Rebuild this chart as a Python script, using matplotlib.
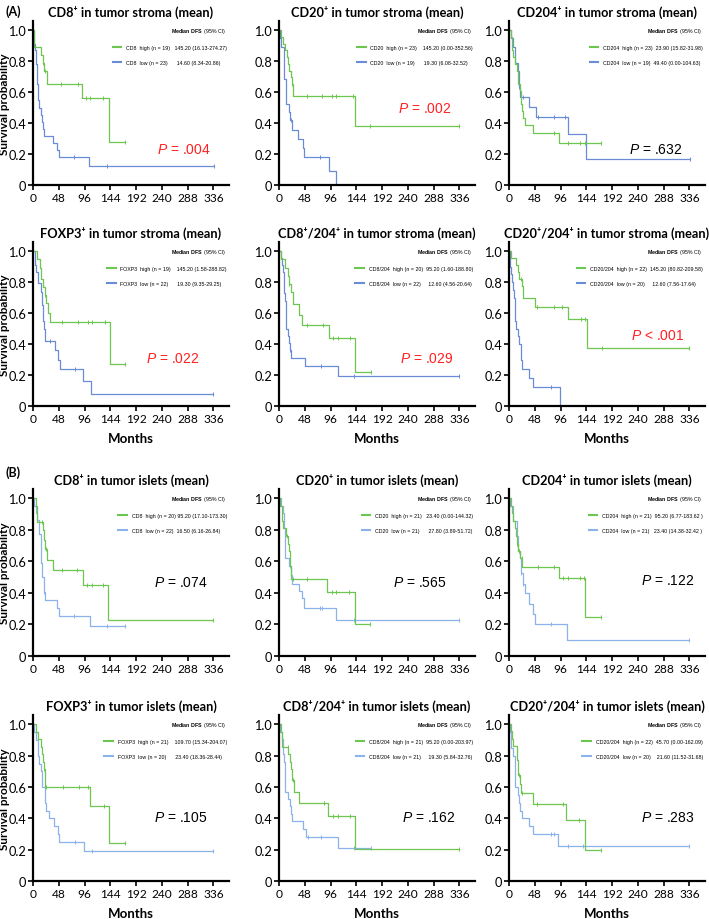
import numpy as np
import matplotlib.pyplot as plt
from matplotlib.lines import Line2D

plt.rcParams.update({
    'font.family': ['Lato', 'DejaVu Sans'],
    'mathtext.fontset': 'custom',
    'mathtext.rm': 'Liberation Sans',
    'mathtext.it': 'Liberation Sans:italic',
    'mathtext.bf': 'Liberation Sans:bold',
})

# ---- data: step times (months), survival after each step, censor times ----
# (A) tumor stroma
cd8_s_hi_t = [0, 2, 14, 18, 21, 26, 91, 141]
cd8_s_hi_s = [1.0, 0.895, 0.842, 0.789, 0.737, 0.655, 0.562, 0.281]
cd8_s_hi_c = [19, 23, 52, 83, 99, 107, 131, 172]
cd8_s_lo_t = [0, 1, 3, 5, 8, 10, 12, 14, 16, 18, 21, 38, 44, 48, 105]
cd8_s_lo_s = [1.0, 0.913, 0.87, 0.78, 0.65, 0.55, 0.5, 0.45, 0.41, 0.36, 0.318, 0.272, 0.227, 0.182, 0.121]
cd8_s_lo_c = [77, 138, 337]

cd20_s_hi_t = [0, 3, 7, 11, 15, 17, 19, 22, 24, 27, 141]
cd20_s_hi_s = [1.0, 0.957, 0.913, 0.87, 0.826, 0.783, 0.739, 0.696, 0.652, 0.575, 0.383]
cd20_s_hi_c = [25, 53, 81, 98, 107, 138, 170, 336]
cd20_s_lo_t = [0, 2, 4, 10, 13, 19, 21, 24, 36, 44, 47, 93, 106]
cd20_s_lo_s = [1.0, 0.947, 0.895, 0.684, 0.526, 0.474, 0.421, 0.358, 0.298, 0.238, 0.179, 0.089, 0.0]
cd20_s_lo_c = [22, 77]

cd204_s_hi_t = [0, 3, 6, 8, 11, 14, 16, 20, 22, 23, 25, 26, 29, 45, 93]
cd204_s_hi_s = [1.0, 0.957, 0.87, 0.826, 0.783, 0.739, 0.652, 0.609, 0.565, 0.522, 0.478, 0.435, 0.391, 0.336, 0.269]
cd204_s_hi_c = [84, 110, 132, 141, 172]
cd204_s_lo_t = [0, 3, 7, 11, 12, 16, 18, 19, 21, 38, 50, 110, 143]
cd204_s_lo_s = [1.0, 0.947, 0.895, 0.842, 0.789, 0.737, 0.684, 0.632, 0.568, 0.505, 0.442, 0.331, 0.166]
cd204_s_lo_c = [19, 26, 54, 83, 104, 337]

foxp3_s_hi_t = [0, 7, 13, 15, 19, 22, 25, 28, 31, 143]
foxp3_s_hi_s = [1.0, 0.947, 0.895, 0.821, 0.768, 0.716, 0.663, 0.60, 0.542, 0.271]
foxp3_s_hi_c = [23, 54, 84, 102, 109, 134, 172]
foxp3_s_lo_t = [0, 3, 6, 10, 14, 16, 18, 20, 22, 23, 41, 47, 50, 93, 108]
foxp3_s_lo_s = [1.0, 0.909, 0.864, 0.795, 0.74, 0.65, 0.55, 0.50, 0.46, 0.42, 0.36, 0.30, 0.24, 0.16, 0.08]
foxp3_s_lo_c = [31, 79, 336]

cd8204_s_hi_t = [0, 3, 11, 16, 19, 23, 26, 37, 42, 93, 141]
cd8204_s_hi_s = [1.0, 0.95, 0.89, 0.84, 0.79, 0.735, 0.66, 0.59, 0.525, 0.438, 0.219]
cd8204_s_hi_c = [19, 53, 82, 100, 109, 132, 172]
cd8204_s_lo_t = [0, 3, 5, 7, 9, 11, 13, 16, 18, 21, 23, 48, 109]
cd8204_s_lo_s = [1.0, 0.955, 0.909, 0.864, 0.73, 0.68, 0.50, 0.45, 0.41, 0.36, 0.308, 0.257, 0.193]
cd8204_s_lo_c = [21, 78, 140, 336]

cd20204_s_hi_t = [0, 4, 13, 16, 18, 25, 26, 49, 109, 145]
cd20204_s_hi_s = [1.0, 0.955, 0.909, 0.864, 0.818, 0.773, 0.70, 0.64, 0.56, 0.373]
cd20204_s_hi_c = [22, 52, 83, 99, 134, 142, 174, 336]
cd20204_s_lo_t = [0, 1, 3, 6, 8, 10, 12, 13, 17, 19, 22, 25, 37, 44, 95]
cd20204_s_lo_s = [1.0, 0.90, 0.85, 0.80, 0.75, 0.70, 0.55, 0.50, 0.45, 0.40, 0.30, 0.24, 0.18, 0.12, 0.0]
cd20204_s_lo_c = [78]

# (B) tumor islets
cd8_i_hi_t = [0, 5, 8, 18, 21, 23, 27, 38, 93, 140]
cd8_i_hi_s = [1.0, 0.95, 0.85, 0.80, 0.735, 0.68, 0.612, 0.544, 0.453, 0.227]
cd8_i_hi_c = [17, 24, 54, 82, 101, 109, 131, 335]
cd8_i_lo_t = [0, 2, 5, 8, 12, 14, 15, 17, 20, 23, 44, 48, 106]
cd8_i_lo_s = [1.0, 0.955, 0.909, 0.864, 0.773, 0.727, 0.59, 0.50, 0.409, 0.357, 0.306, 0.255, 0.19]
cd8_i_lo_c = [21, 76, 137, 171]

cd20_i_hi_t = [0, 2, 6, 8, 13, 17, 19, 20, 21, 22, 23, 90, 142]
cd20_i_hi_s = [1.0, 0.952, 0.857, 0.81, 0.762, 0.714, 0.667, 0.619, 0.571, 0.524, 0.488, 0.405, 0.203]
cd20_i_hi_c = [15, 26, 52, 99, 107, 131, 170]
cd20_i_lo_t = [0, 3, 7, 9, 12, 19, 23, 25, 37, 43, 47, 107]
cd20_i_lo_s = [1.0, 0.952, 0.905, 0.81, 0.619, 0.571, 0.514, 0.457, 0.411, 0.366, 0.305, 0.229]
cd20_i_lo_c = [21, 77, 81, 139, 336]

cd204_i_hi_t = [0, 3, 5, 7, 11, 13, 14, 17, 21, 25, 94, 142]
cd204_i_hi_s = [1.0, 0.952, 0.905, 0.857, 0.81, 0.762, 0.714, 0.667, 0.619, 0.565, 0.495, 0.248]
cd204_i_hi_c = [15, 19, 24, 54, 83, 101, 109, 133, 139, 172]
cd204_i_lo_t = [0, 2, 8, 14, 16, 21, 22, 26, 29, 38, 44, 49, 108]
cd204_i_lo_s = [1.0, 0.952, 0.857, 0.762, 0.667, 0.619, 0.524, 0.46, 0.40, 0.333, 0.267, 0.20, 0.10]
cd204_i_lo_c = [18, 23, 27, 79, 336]

foxp3_i_hi_t = [0, 5, 9, 14, 17, 19, 20, 23, 106, 142]
foxp3_i_hi_s = [1.0, 0.952, 0.905, 0.857, 0.81, 0.762, 0.714, 0.60, 0.48, 0.24]
foxp3_i_hi_c = [21, 25, 56, 85, 102, 132, 172]
foxp3_i_lo_t = [0, 2, 5, 9, 12, 14, 17, 22, 23, 25, 29, 39, 46, 49, 95]
foxp3_i_lo_s = [1.0, 0.95, 0.90, 0.80, 0.75, 0.70, 0.60, 0.55, 0.50, 0.45, 0.40, 0.35, 0.30, 0.25, 0.19]
foxp3_i_lo_c = [79, 110, 336]

cd8204_i_hi_t = [0, 3, 6, 17, 20, 22, 24, 28, 37, 91, 142]
cd8204_i_hi_s = [1.0, 0.952, 0.857, 0.81, 0.762, 0.714, 0.643, 0.571, 0.50, 0.412, 0.206]
cd8204_i_hi_c = [16, 26, 84, 100, 109, 132, 336]
cd8204_i_lo_t = [0, 2, 5, 8, 10, 12, 17, 21, 22, 24, 45, 50, 109]
cd8204_i_lo_s = [1.0, 0.952, 0.905, 0.81, 0.762, 0.571, 0.524, 0.476, 0.429, 0.381, 0.333, 0.281, 0.211]
cd8204_i_lo_c = [54, 78, 139, 172]

cd20204_i_hi_t = [0, 3, 5, 7, 14, 15, 17, 20, 22, 44, 107, 141]
cd20204_i_hi_s = [1.0, 0.955, 0.909, 0.864, 0.818, 0.773, 0.68, 0.62, 0.565, 0.49, 0.392, 0.196]
cd20204_i_hi_c = [18, 25, 52, 101, 131, 171]
cd20204_i_lo_t = [0, 2, 4, 8, 11, 17, 19, 20, 25, 37, 45, 92]
cd20204_i_lo_s = [1.0, 0.95, 0.85, 0.80, 0.60, 0.55, 0.50, 0.45, 0.40, 0.35, 0.297, 0.223]
cd20204_i_lo_c = [78, 83, 109, 138, 336]

titles = [
    'CD8\u207a in tumor stroma (mean)', 'CD20\u207a in tumor stroma (mean)', 'CD204\u207a in tumor stroma (mean)',
    'FOXP3\u207a in tumor stroma (mean)', 'CD8\u207a/204\u207a in tumor stroma (mean)', 'CD20\u207a/204\u207a in tumor stroma (mean)',
    'CD8\u207a in tumor islets (mean)', 'CD20\u207a in tumor islets (mean)', 'CD204\u207a in tumor islets (mean)',
    'FOXP3\u207a in tumor islets (mean)', 'CD8\u207a/204\u207a in tumor islets (mean)', 'CD20\u207a/204\u207a in tumor islets (mean)',
]
hi_labels = [
    'CD8  high (n = 19)   145.20 (16.13-274.27)', 'CD20  high (n = 23)    145.20 (0.00-352.56)',
    'CD204  high (n = 23)  23.90 (15.82-31.98)', 'FOXP3  high (n = 19)    145.20 (1.58-288.82)',
    'CD8/204  high (n = 20)  95.20 (1.60-188.80)', 'CD20/204  high (n = 22)  145.20 (80.82-209.58)',
    'CD8  high (n = 20) 95.20 (17.10-173.30)', 'CD20  high (n = 21)   23.40 (0.00-144.32)',
    'CD204  high (n = 21)  95.20 (6.77-183.62 )', 'FOXP3  high (n = 21)    109.70 (15.34-204.07)',
    'CD8/204  high (n = 21)  95.20 (0.00-203.97)', 'CD20/204  high (n = 22)  45.70 (0.00-162.09)',
]
lo_labels = [
    'CD8  low (n = 23)      14.60 (8.34-20.86)', 'CD20  low (n = 19)      19.30 (6.08-32.52)',
    'CD204  low (n = 19)  49.40 (0.00-104.63)', 'FOXP3  low (n = 22)      19.30 (9.35-29.25)',
    'CD8/204  low (n = 22)     12.60 (4.56-20.64)', 'CD20/204  low (n = 20)     12.60 (7.56-17.64)',
    'CD8  low (n = 22)  16.50 (6.16-26.84)', 'CD20  low (n = 21)      27.80 (3.89-51.72)',
    'CD204  low (n = 21)   23.40 (14.38-32.42 )', 'FOXP3  low (n = 20)      23.40 (18.36-28.44)',
    'CD8/204  low (n = 21)     19.30 (5.84-32.76)', 'CD20/204  low (n = 20)    21.60 (11.52-31.68)',
]
p_texts = ['= .004', '= .002', '= .632', '= .022', '= .029', '< .001',
           '= .074', '= .565', '= .122', '= .105', '= .162', '= .283']
p_red = [True, True, False, True, True, True,
         False, False, False, False, False, False]
p_pos = [(231, 0.23), (221, 0.50), (224, 0.23), (210, 0.31), (225, 0.31), (227, 0.46),
         (226, 0.47), (213, 0.47), (245, 0.48), (225, 0.41), (229, 0.41), (245, 0.41)]

curves = [
    (cd8_s_hi_t, cd8_s_hi_s, cd8_s_hi_c, cd8_s_lo_t, cd8_s_lo_s, cd8_s_lo_c),
    (cd20_s_hi_t, cd20_s_hi_s, cd20_s_hi_c, cd20_s_lo_t, cd20_s_lo_s, cd20_s_lo_c),
    (cd204_s_hi_t, cd204_s_hi_s, cd204_s_hi_c, cd204_s_lo_t, cd204_s_lo_s, cd204_s_lo_c),
    (foxp3_s_hi_t, foxp3_s_hi_s, foxp3_s_hi_c, foxp3_s_lo_t, foxp3_s_lo_s, foxp3_s_lo_c),
    (cd8204_s_hi_t, cd8204_s_hi_s, cd8204_s_hi_c, cd8204_s_lo_t, cd8204_s_lo_s, cd8204_s_lo_c),
    (cd20204_s_hi_t, cd20204_s_hi_s, cd20204_s_hi_c, cd20204_s_lo_t, cd20204_s_lo_s, cd20204_s_lo_c),
    (cd8_i_hi_t, cd8_i_hi_s, cd8_i_hi_c, cd8_i_lo_t, cd8_i_lo_s, cd8_i_lo_c),
    (cd20_i_hi_t, cd20_i_hi_s, cd20_i_hi_c, cd20_i_lo_t, cd20_i_lo_s, cd20_i_lo_c),
    (cd204_i_hi_t, cd204_i_hi_s, cd204_i_hi_c, cd204_i_lo_t, cd204_i_lo_s, cd204_i_lo_c),
    (foxp3_i_hi_t, foxp3_i_hi_s, foxp3_i_hi_c, foxp3_i_lo_t, foxp3_i_lo_s, foxp3_i_lo_c),
    (cd8204_i_hi_t, cd8204_i_hi_s, cd8204_i_hi_c, cd8204_i_lo_t, cd8204_i_lo_s, cd8204_i_lo_c),
    (cd20204_i_hi_t, cd20204_i_hi_s, cd20204_i_hi_c, cd20204_i_lo_t, cd20204_i_lo_s, cd20204_i_lo_c),
]

x_ticks = [0, 48, 96, 144, 192, 240, 288, 336]
y_ticks = [0, 0.2, 0.4, 0.6, 0.8, 1.0]
y_ticklabels = ['0', '0.2', '0.4', '0.6', '0.8', '1.0']

GREEN = '#6cc64f'
BLUE_A = '#6a8bd6'
BLUE_B = '#8cb2ea'


def draw_curve(ax, t, s, c, color):
    end = max(max(c) if c else 0, t[-1])
    ax.step(list(t) + [end], list(s) + [s[-1]], where='post', color=color, lw=0.9)
    idx = np.searchsorted(t, c, side='right') - 1
    ax.plot(c, np.asarray(s)[idx], ls='none', marker='|', ms=3, mew=0.7, color=color)


W, H = 709, 920
fig = plt.figure(figsize=(W / 100, H / 100), dpi=100)

col_left = [33, 279, 509]
ax_w = 196
row_bottom = [186, 407, 657, 882]
row_h = [164, 164, 167, 166]

for k in range(12):
    r, c = divmod(k, 3)
    ax = fig.add_axes([col_left[c] / W, 1 - row_bottom[r] / H, ax_w / W, row_h[r] / H])
    blue = BLUE_A if r < 2 else BLUE_B
    hi_t, hi_s, hi_c, lo_t, lo_s, lo_c = curves[k]
    draw_curve(ax, lo_t, lo_s, lo_c, blue)
    draw_curve(ax, hi_t, hi_s, hi_c, GREEN)

    ax.set_xlim(0, 365)
    ax.set_ylim(0, 1.06)
    ax.set_xticks(x_ticks)
    ax.set_yticks(y_ticks)
    ax.set_yticklabels(y_ticklabels)
    ax.tick_params(axis='y', labelsize=9.2, length=3.5, width=1.2, pad=1.5)
    ax.tick_params(axis='x', labelsize=8.6, length=3.5, width=1.2, pad=1.5)
    for sp in ['top', 'right']:
        ax.spines[sp].set_visible(False)
    for sp in ['left', 'bottom']:
        ax.spines[sp].set_linewidth(1.6)
    ax.set_title(titles[k], fontsize=9.2, fontweight='bold', pad=4)

    handles = [Line2D([], [], color=GREEN, lw=1.5), Line2D([], [], color=blue, lw=1.5)]
    ax.legend(handles, [hi_labels[k], lo_labels[k]], loc='upper right',
              bbox_to_anchor=(1.0, 0.985), frameon=False,
              title=r'$\bf{Median\ DFS}$  (95% CI)', alignment='right',
              prop={'family': 'Liberation Sans', 'size': 3.8},
              title_fontproperties={'family': 'Liberation Sans', 'size': 3.8},
              handlelength=1.6, handletextpad=0.9, labelspacing=1.9, borderaxespad=0)

    px, py = p_pos[k]
    ax.text(px, py, r'$\it{P}$ ' + p_texts[k], fontsize=10, family='Liberation Sans',
            color='#ff2020' if p_red[k] else 'black', va='center', ha='left')

    if c == 0:
        ax.set_ylabel('Survival probability', fontsize=8.5, fontweight='bold')
        ax.yaxis.set_label_coords(-0.118, 0.5)
    if r in (1, 3):
        ax.set_xlabel('Months', fontsize=9.5, fontweight='bold', labelpad=6)

fig.text(5 / W, 1 - 12 / H, '(A)', fontsize=9, fontweight='bold', va='center')
fig.text(5 / W, 1 - 473 / H, '(B)', fontsize=9, fontweight='bold', va='center')

fig.savefig('out.png', dpi=100)
